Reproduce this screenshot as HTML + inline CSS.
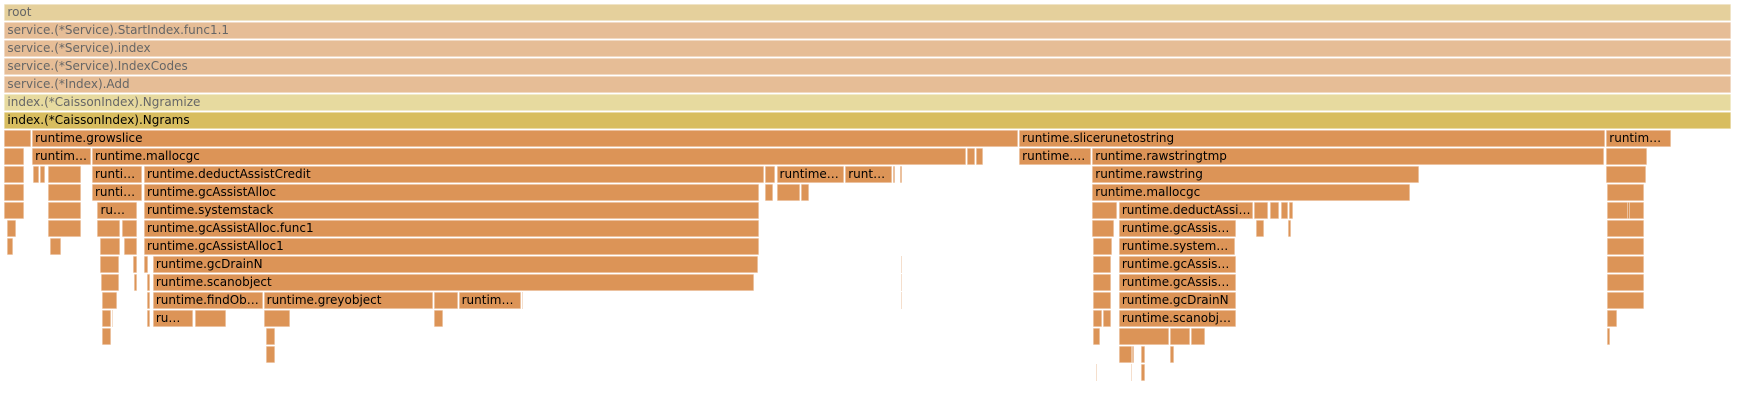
<!DOCTYPE html>
<html><head><meta charset="utf-8">
<style>
html,body{margin:0;padding:0;background:#fff;width:1737px;height:402px;overflow:hidden}
#fg{position:relative;width:1737px;height:402px;font-family:"DejaVu Sans","Liberation Sans",sans-serif;font-size:12px}
.f{position:absolute;height:17px;box-sizing:border-box;white-space:nowrap;overflow:hidden;line-height:17px;padding-left:3px;color:#000;box-shadow:inset 0 0 0 0.6px rgba(255,255,255,0.7)}
</style></head><body>
<div id="fg"></div>
<script>
// frames: [level, start, end, label]  (units: samples)
const frameLevels = [0,1,2,3,4,5,6,
7,7,7,7,
8,8,8,8,8,8,8,8,
9,9,9,9,9,9,9,9,9,9,9,9,9,
10,10,10,10,10,10,10,10,10,
11,11,11,11,11,11,11,11,11,11,11,11,
12,12,12,12,12,12,12,12,12,12,
13,13,13,13,13,13,13,13,
14,14,14,14,14,14,14,14,
15,15,15,15,15,15,15,15,
16,16,16,16,16,16,16,16,16,16,16,
17,17,17,17,17,17,17,17,17,17,17,
18,18,18,18,18,18,18,
19,19,19,19,19,
20,20,20];
const frameStarts = [4,4,4,4,4,4,4,
4,29,920,1450,
4,29,83,873,881,920,986,1450,
4,30,36,43,83,130,691,701,763,806,812,986,1450,
4,43,83,130,691,701,723,986,1451,
4,43,88,130,986,1010,1132,1146,1156,1164,1451,1469,
6,43,88,110,130,986,1010,1134,1163,1451,
6,45,90,112,130,987,1010,1451,
90,120,130,138,987,1010,1451,813,
91,121,133,138,987,1010,1451,813,
92,133,138,238,392,414,471,987,1010,1451,813,
92,133,138,176,238,392,987,996,1010,1451,101,
92,240,987,1010,1056,1075,1451,
240,1010,1030,1056,1021,
1030,989,1021];
const frameEnds = [1563,1563,1563,1563,1563,1563,1563,
28,919,1449,1508,
22,82,872,880,887,985,1448,1487,
22,35,41,73,128,690,700,762,805,808,814,1281,1486,
22,73,128,685,698,722,730,1273,1484,
22,73,124,685,1008,1131,1145,1155,1163,1167,1484,1471,
14,73,108,124,685,1006,1116,1141,1165,1484,
12,55,108,124,685,1004,1115,1484,
107,124,134,684,1003,1116,1484,814,
107,124,135,681,1003,1116,1484,814,
106,135,237,391,413,470,472,1003,1116,1484,814,
100,135,174,204,262,400,995,1003,1116,1460,102,
100,248,993,1055,1074,1088,1453,
248,1024,1034,1060,1023,
1034,990,1022];
const frameLabels = ["root","service.(*Service).StartIndex.func1.1","service.(*Service).index","service.(*Service).IndexCodes","service.(*Index).Add","index.(*CaissonIndex).Ngramize","index.(*CaissonIndex).Ngrams",
"","runtime.growslice","runtime.slicerunetostring","runtim…",
"","runtim…","runtime.mallocgc","","","runtime.…","runtime.rawstringtmp","",
"","","","","runti…","runtime.deductAssistCredit","","runtime…","runt…","","","runtime.rawstring","",
"","","runti…","runtime.gcAssistAlloc","","","","runtime.mallocgc","",
"","","ru…","runtime.systemstack","","runtime.deductAssi…","","","","","","",
"","","","","runtime.gcAssistAlloc.func1","","runtime.gcAssis…","","","",
"","","","","runtime.gcAssistAlloc1","","runtime.system…","",
"","","","runtime.gcDrainN","","runtime.gcAssis…","","",
"","","","runtime.scanobject","","runtime.gcAssis…","","",
"","","runtime.findOb…","runtime.greyobject","","runtim…","","","runtime.gcDrainN","","",
"","","ru…","","","","","","runtime.scanobj…","","",
"","","","","","","",
"","","","","",
"","",""];
const SCALE = 1737/1568;
function xPos(v){ return v*SCALE; }
function yPos(level){ return 4 + level*18; }
function colorFor(level){
  if(level===0) return ["#e5d09c","#666"];
  if(level>=1 && level<=4) return ["#e6bd96","#666"];
  if(level===5) return ["#e7da9f","#666"];
  if(level===6) return ["#d8bd5f","#000"];
  return ["#dc9457","#000"];
}
const fg = document.getElementById('fg');
for(let i=0;i<frameLevels.length;i++){
  const el = document.createElement('div');
  el.className='f';
  const x0 = xPos(frameStarts[i]), x1 = xPos(frameEnds[i]);
  const c = colorFor(frameLevels[i]);
  el.style.left = x0+'px';
  el.style.top = yPos(frameLevels[i])+'px';
  el.style.width = Math.max(1.2,x1-x0)+'px';
  el.style.background = c[0];
  el.style.color = c[1];
  if(x1-x0<6) el.style.padding='0';
  el.textContent = frameLabels[i];
  
  
  fg.appendChild(el);
}
</script>
</body></html>
